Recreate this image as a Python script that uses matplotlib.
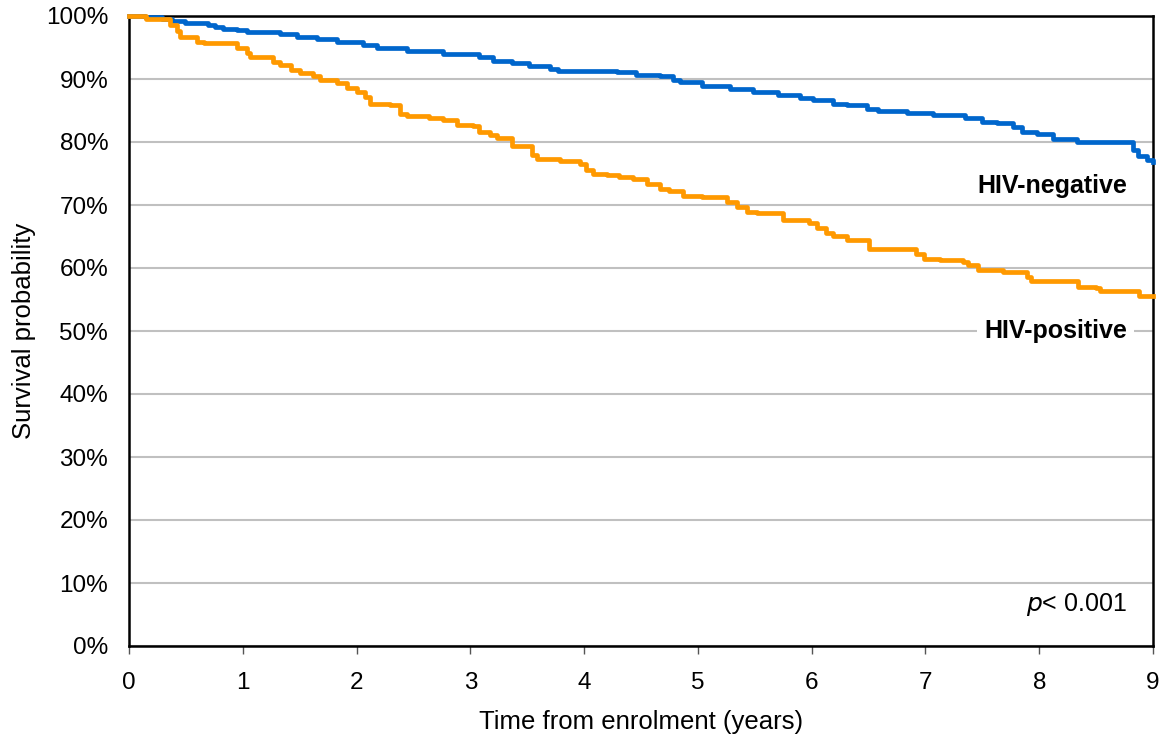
import numpy as np
import matplotlib.pyplot as plt

# Kaplan-Meier change points (years, survival %)
neg_t = [0, 0.14, 0.29, 0.38, 0.49, 0.69, 0.76, 0.83, 0.95, 1.04, 1.33, 1.48, 1.65, 1.83,
         2.06, 2.18, 2.44, 2.76, 3.08, 3.20, 3.37, 3.52, 3.63, 3.70, 3.77, 4.29, 4.46, 4.67,
         4.78, 4.84, 5.04, 5.28, 5.48, 5.70, 5.90, 6.01, 6.19, 6.31, 6.49, 6.58, 6.84, 7.07,
         7.35, 7.50, 7.63, 7.77, 7.85, 7.98, 8.12, 8.33, 8.82, 8.87, 8.95, 9.0]
neg_s = [100, 99.8, 99.5, 99.2, 98.9, 98.5, 98.2, 97.9, 97.7, 97.4, 97.1, 96.7, 96.3, 95.9,
         95.4, 94.9, 94.4, 94.0, 93.5, 92.9, 92.5, 92.1, 92.0, 91.6, 91.3, 91.1, 90.7, 90.4,
         89.9, 89.5, 88.9, 88.4, 87.9, 87.5, 87.0, 86.6, 86.1, 85.8, 85.2, 84.9, 84.6, 84.3,
         83.8, 83.2, 83.0, 82.4, 81.6, 81.3, 80.5, 80.0, 78.8, 77.8, 77.1, 76.9]

pos_t = [0, 0.15, 0.36, 0.42, 0.45, 0.60, 0.66, 0.95, 1.04, 1.06, 1.27, 1.33, 1.42, 1.50,
         1.62, 1.68, 1.83, 1.92, 2.00, 2.07, 2.12, 2.29, 2.38, 2.44, 2.64, 2.76, 2.88, 3.02,
         3.08, 3.17, 3.23, 3.37, 3.54, 3.59, 3.79, 3.96, 4.02, 4.08, 4.20, 4.31, 4.43, 4.55,
         4.67, 4.75, 4.87, 5.04, 5.26, 5.34, 5.43, 5.52, 5.75, 5.98, 6.05, 6.13, 6.19, 6.31,
         6.50, 6.92, 6.99, 7.13, 7.33, 7.37, 7.46, 7.68, 7.89, 7.93, 8.34, 8.50, 8.53, 8.88, 9.0]
pos_s = [100, 99.6, 98.5, 97.6, 96.6, 95.9, 95.7, 94.9, 94.1, 93.5, 92.7, 92.3, 91.4, 91.0,
         90.4, 89.8, 89.3, 88.5, 87.9, 87.2, 86.1, 85.9, 84.5, 84.1, 83.8, 83.5, 82.7, 82.5,
         81.6, 81.1, 80.6, 79.3, 78.0, 77.3, 77.0, 76.5, 75.6, 75.0, 74.8, 74.5, 74.1, 73.3,
         72.6, 72.3, 71.5, 71.2, 70.5, 69.7, 68.9, 68.7, 67.6, 67.2, 66.3, 65.5, 65.1, 64.4,
         63.0, 62.3, 61.5, 61.2, 60.9, 60.4, 59.7, 59.4, 58.6, 57.9, 57.0, 56.8, 56.3, 55.5, 55.5]

x_ticks = list(range(0, 10))
y_ticks = list(range(0, 101, 10))

plt.rcParams['font.family'] = ['Liberation Sans', 'DejaVu Sans']

fig = plt.figure(figsize=(11.62, 7.38), dpi=100)
ax = fig.add_axes([129 / 1162, 1 - 646 / 738, 1024 / 1162, 630 / 738])

ax.step(neg_t, neg_s, where='post', color='#0066CC', lw=3.4, zorder=3, clip_on=False)
ax.step(pos_t, pos_s, where='post', color='#FF9900', lw=3.4, zorder=3, clip_on=False)

ax.set_xlim(0, 9)
ax.set_ylim(0, 100)
ax.set_xticks(x_ticks)
ax.set_yticks(y_ticks)
ax.set_yticklabels([f"{v}%" for v in y_ticks])
ax.tick_params(axis='x', direction='out', length=6, width=1, labelsize=17.5, pad=13, color='#555555')
ax.tick_params(axis='y', length=0, labelsize=17.5, pad=15)
ax.yaxis.grid(True, color='#C0C0C0', lw=1.5)
ax.set_axisbelow(True)
for sp in ax.spines.values():
    sp.set_linewidth(1.8)
    sp.set_color('black')

ax.set_xlabel("Time from enrolment (years)", fontsize=18.5, labelpad=11)
ax.set_ylabel("Survival probability", fontsize=18.5, labelpad=7)

ax.text(8.77, 73.0, "HIV-negative", ha='right', va='center', fontsize=18, fontweight='bold')
ax.text(8.77, 50.0, "HIV-positive", ha='right', va='center', fontsize=18, fontweight='bold',
        bbox=dict(facecolor='white', edgecolor='none', pad=5))
ax.text(8.77, 6.6, r"$\it{p}$" + "< 0.001", ha='right', va='center', fontsize=18)

plt.savefig('out.png', dpi=100)
